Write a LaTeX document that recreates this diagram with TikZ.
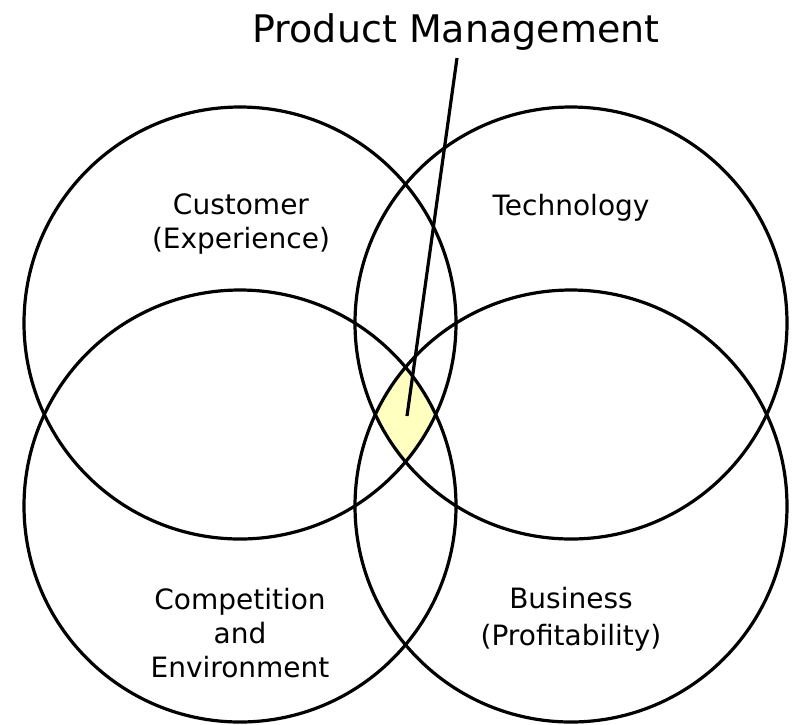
\documentclass[tikz,border=0pt]{standalone}
\usepackage{fontspec}
\setmainfont{DejaVu Sans}
\definecolor{lens}{RGB}{255,255,192}
\begin{document}
\begin{tikzpicture}[x=1pt,y=-1pt,
  ring/.style={draw=black,line width=3.2pt},
  lbl/.style={font=\fontsize{28}{34}\selectfont,align=center,anchor=base,inner sep=0pt},
  ttl/.style={font=\fontsize{38}{44}\selectfont,anchor=base,inner sep=0pt}]
\useasboundingbox (0,0) rectangle (794,724);
\coordinate (cTL) at (240,323);
\coordinate (cTR) at (571,323);
\coordinate (cBL) at (240,506);
\coordinate (cBR) at (571,506);
\def\rr{216}
% yellow lens (intersection of all four)
\begin{scope}
  \clip (cTL) circle (\rr);
  \clip (cTR) circle (\rr);
  \clip (cBL) circle (\rr);
  \fill[lens] (cBR) circle (\rr);
\end{scope}
\draw[ring] (cTL) circle (\rr);
\draw[ring] (cTR) circle (\rr);
\draw[ring] (cBL) circle (\rr);
\draw[ring] (cBR) circle (\rr);
% labels (base = baseline of last line)
\node[lbl] (cust) at (241,248) {Customer\\(Experience)};
\node[lbl] (tech) at (571,215) {Technology};
\node[lbl] (comp) at (240,677) {Competition\\and\\Environment};
\node[lbl,font=\fontsize{28}{37}\selectfont] (bus) at (571,645) {Business\\(Profitability)};
\node[ttl] (pm) at (456,42) {Product Management};
% pointer
\coordinate (ptop) at (457,58);
\coordinate (pbot) at (407,416);
\draw[line width=3.2pt] (ptop) -- (pbot);
\end{tikzpicture}
\end{document}
